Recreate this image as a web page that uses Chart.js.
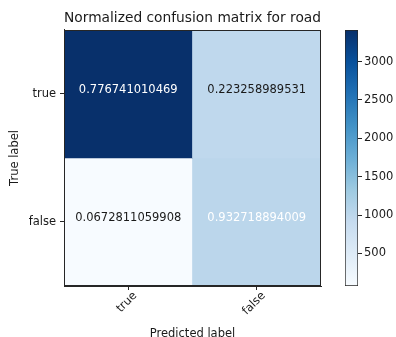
<!DOCTYPE html>
<html>
<head>
<meta charset="utf-8">
<script src="https://cdn.jsdelivr.net/npm/chart.js@4/dist/chart.umd.min.js"></script>
<style>
  html, body { margin: 0; padding: 0; background: #fff; }
  #wrap { position: relative; width: 396px; height: 337px; overflow: hidden; }
  #wrap canvas { position: absolute; left: 0; top: 0; }
</style>
</head>
<body>
<div id="wrap">
  <canvas id="matrix" width="396" height="337"></canvas>
  <canvas id="colorbar" width="396" height="337"></canvas>
</div>
<script>
// Class names (rows = true label, columns = predicted label)
const classLabels = ['true', 'false'];

// Row-normalized confusion matrix, printed inside the cells
const normalized = [
  [0.776741010469, 0.223258989531],
  [0.0672811059908, 0.932718894009]
];

// Raw counts, used for the cell colours and the colour bar
const counts = [
  [3413, 981],
  [74, 1026]
];

// Colour bar tick values
const colorbarTicks = [500, 1000, 1500, 2000, 2500, 3000];

const FONT = "'DejaVu Sans', 'Liberation Sans', sans-serif";
const LABEL_SIZE = 11.5;
const INK = '#1a1a1a';
const FRAME = '#262626';

// matplotlib "Blues" colormap anchors
const BLUES = [
  [247, 251, 255], [222, 235, 247], [198, 219, 239], [158, 202, 225],
  [107, 174, 214], [66, 146, 198], [33, 113, 181], [8, 81, 156], [8, 48, 107]
];
function blues(t) {
  t = Math.max(0, Math.min(1, t));
  const p = t * (BLUES.length - 1);
  const i = Math.min(Math.floor(p), BLUES.length - 2);
  const f = p - i;
  const a = BLUES[i], b = BLUES[i + 1];
  const c = a.map((v, k) => Math.round(v + (b[k] - v) * f));
  return `rgb(${c[0]},${c[1]},${c[2]})`;
}

const allCounts = counts.flat();
const vmin = Math.min(...allCounts);
const vmax = Math.max(...allCounts);
const colorFor = v => blues((v - vmin) / (vmax - vmin));
const textThreshold = Math.max(...normalized.flat()) / 2;

// Frame around the plotting area
const framePlugin = {
  id: 'frame',
  afterDraw(chart) {
    const { ctx, chartArea: a } = chart;
    ctx.save();
    ctx.strokeStyle = FRAME;
    ctx.lineWidth = 1;
    ctx.strokeRect(Math.round(a.left) + 0.5, Math.round(a.top) + 0.5,
                   Math.round(a.right - a.left) - 1, Math.round(a.bottom - a.top) - 1);
    ctx.restore();
  }
};

// Normalized value written in the middle of each cell
const cellTextPlugin = {
  id: 'cellText',
  afterDatasetsDraw(chart) {
    const { ctx } = chart;
    ctx.save();
    ctx.font = `${LABEL_SIZE}px ${FONT}`;
    ctx.textAlign = 'center';
    ctx.textBaseline = 'middle';
    chart.data.datasets.forEach((ds, r) => {
      chart.getDatasetMeta(r).data.forEach((el, c) => {
        const v = normalized[r][c];
        ctx.fillStyle = v > textThreshold ? '#ffffff' : INK;
        ctx.fillText(String(v), el.x, (el.y + el.base) / 2 - 4);
      });
    });
    ctx.restore();
  }
};

// One floating-bar dataset per true-label row; each bar spans one cell
const rowDatasets = classLabels.map((_, r) => ({
  label: classLabels[r],
  data: classLabels.map(() => [r - 0.5, r + 0.5]),
  backgroundColor: counts[r].map(colorFor),
  borderWidth: 0,
  grouped: false,
  barPercentage: 1,
  categoryPercentage: 1
}));

new Chart(document.getElementById('matrix'), {
  type: 'bar',
  data: { labels: classLabels, datasets: rowDatasets },
  plugins: [cellTextPlugin, framePlugin],
  options: {
    responsive: false,
    animation: false,
    devicePixelRatio: 1,
    layout: { padding: { left: 0, right: 75, top: 0, bottom: 0 } },
    plugins: {
      legend: { display: false },
      tooltip: { enabled: false },
      title: {
        display: true,
        text: 'Normalized confusion matrix for road',
        fullSize: false,
        color: INK,
        font: { family: FONT, size: 13.9, weight: 'normal' },
        padding: { top: 10, bottom: 3.3 }
      }
    },
    scales: {
      x: {
        type: 'category',
        offset: true,
        grid: { display: true, drawOnChartArea: false, drawTicks: true, tickLength: 4, color: FRAME, offset: false },
        border: { display: true, color: FRAME },
        ticks: {
          color: INK,
          font: { family: FONT, size: LABEL_SIZE },
          maxRotation: 45, minRotation: 45,
          labelOffset: 7,
          padding: -1
        },
        title: {
          display: true,
          text: 'Predicted label',
          color: INK,
          font: { family: FONT, size: LABEL_SIZE },
          padding: { top: 0, bottom: -3.5 }
        },
        afterFit(scale) { scale.height = 51; }
      },
      y: {
        type: 'linear',
        min: -0.5,
        max: 1.5,
        reverse: true,
        afterBuildTicks(scale) { scale.ticks = classLabels.map((_, i) => ({ value: i })); },
        grid: { display: true, drawOnChartArea: false, drawTicks: true, tickLength: 4, color: FRAME },
        border: { display: true, color: FRAME },
        ticks: {
          color: INK,
          font: { family: FONT, size: LABEL_SIZE },
          padding: 4,
          callback: v => classLabels[v]
        },
        title: {
          display: true,
          text: 'True label',
          color: INK,
          font: { family: FONT, size: LABEL_SIZE },
          padding: { top: 8.5, bottom: 0 }
        },
        afterFit(scale) { scale.width = 64; }
      }
    }
  }
});

// Colour bar: a single floating bar from the min to the max count, filled with the colormap
function colormapGradient(context) {
  const { ctx, chartArea } = context.chart;
  if (!chartArea) return null;
  const g = ctx.createLinearGradient(0, chartArea.bottom, 0, chartArea.top);
  BLUES.forEach((c, i) => g.addColorStop(i / (BLUES.length - 1), `rgb(${c[0]},${c[1]},${c[2]})`));
  return g;
}

new Chart(document.getElementById('colorbar'), {
  type: 'bar',
  data: {
    labels: ['counts'],
    datasets: [{
      data: [[vmin, vmax]],
      backgroundColor: colormapGradient,
      borderColor: FRAME,
      borderWidth: 1,
      borderSkipped: false,
      barPercentage: 1,
      categoryPercentage: 1
    }]
  },
  options: {
    responsive: false,
    animation: false,
    devicePixelRatio: 1,
    layout: { padding: { left: 345, right: 0, top: 30, bottom: 51 } },
    plugins: { legend: { display: false }, tooltip: { enabled: false }, title: { display: false } },
    scales: {
      x: { display: false },
      y: {
        type: 'linear',
        position: 'right',
        min: vmin,
        max: vmax,
        afterBuildTicks(scale) { scale.ticks = colorbarTicks.map(v => ({ value: v })); },
        grid: { display: true, drawOnChartArea: false, drawTicks: true, tickLength: 4, color: FRAME },
        border: { display: false },
        ticks: {
          color: INK,
          font: { family: FONT, size: LABEL_SIZE },
          padding: 2,
          callback: v => String(v)
        },
        afterFit(scale) { scale.width = 38; }
      }
    }
  }
});
</script>
</body>
</html>
